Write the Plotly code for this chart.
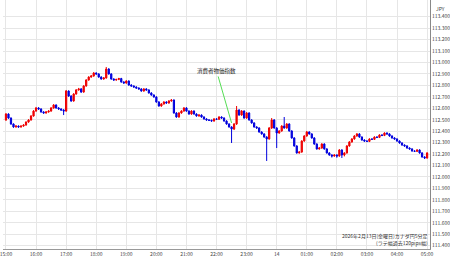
import pandas as pd
import plotly.graph_objects as go

start = "2026-02-13 15:00"
n_bars = 169

opens = [
112.498, 112.550, 112.515, 112.463, 112.437, 112.445, 112.437, 112.445, 112.454, 112.480,
112.498, 112.533, 112.576, 112.603, 112.594, 112.568, 112.559, 112.568, 112.576, 112.603,
112.629, 112.603, 112.594, 112.585, 112.576, 112.751, 112.707, 112.664, 112.725, 112.760,
112.769, 112.742, 112.795, 112.847, 112.873, 112.882, 112.908, 112.900, 112.873, 112.856,
112.865, 112.943, 112.900, 112.856, 112.847, 112.852, 112.860, 112.830, 112.821, 112.838,
112.803, 112.795, 112.786, 112.777, 112.769, 112.751, 112.769, 112.760, 112.734, 112.716,
112.699, 112.655, 112.620, 112.638, 112.655, 112.646, 112.664, 112.672, 112.559, 112.524,
112.559, 112.576, 112.603, 112.576, 112.550, 112.576, 112.550, 112.533, 112.541, 112.524,
112.507, 112.498, 112.495, 112.489, 112.507, 112.504, 112.524, 112.515, 112.489, 112.463,
112.437, 112.419, 112.463, 112.585, 112.541, 112.576, 112.515, 112.559, 112.498, 112.472,
112.437, 112.428, 112.393, 112.376, 112.349, 112.332, 112.428, 112.498, 112.428, 112.384,
112.402, 112.445, 112.428, 112.463, 112.402, 112.341, 112.271, 112.210, 112.218, 112.314,
112.358, 112.393, 112.376, 112.341, 112.288, 112.245, 112.253, 112.288, 112.245, 112.210,
112.192, 112.183, 112.192, 112.183, 112.236, 112.192, 112.210, 112.271, 112.306, 112.332,
112.358, 112.376, 112.349, 112.323, 112.314, 112.311, 112.332, 112.329, 112.349, 112.346,
112.367, 112.363, 112.384, 112.376, 112.358, 112.341, 112.332, 112.314, 112.297, 112.279,
112.271, 112.253, 112.245, 112.227, 112.224, 112.236, 112.210, 112.175, 112.166,
]

highs = [
112.558, 112.556, 112.520, 112.468, 112.452, 112.450, 112.450, 112.460, 112.486, 112.505,
112.540, 112.584, 112.612, 112.610, 112.600, 112.574, 112.575, 112.582, 112.610, 112.636,
112.634, 112.610, 112.600, 112.592, 112.760, 112.756, 112.714, 112.732, 112.768, 112.778,
112.776, 112.802, 112.854, 112.880, 112.890, 112.916, 112.914, 112.906, 112.880, 112.872,
112.961, 112.950, 112.906, 112.862, 112.858, 112.866, 112.866, 112.836, 112.845, 112.844,
112.810, 112.800, 112.792, 112.783, 112.775, 112.776, 112.775, 112.766, 112.740, 112.722,
112.705, 112.662, 112.645, 112.662, 112.661, 112.671, 112.680, 112.678, 112.566, 112.566,
112.583, 112.610, 112.609, 112.582, 112.583, 112.582, 112.556, 112.548, 112.547, 112.530,
112.513, 112.504, 112.501, 112.514, 112.513, 112.531, 112.530, 112.521, 112.495, 112.469,
112.443, 112.470, 112.620, 112.592, 112.584, 112.582, 112.567, 112.565, 112.504, 112.478,
112.443, 112.434, 112.399, 112.382, 112.356, 112.436, 112.515, 112.505, 112.435, 112.409,
112.452, 112.524, 112.470, 112.469, 112.408, 112.347, 112.277, 112.225, 112.321, 112.365,
112.402, 112.399, 112.382, 112.347, 112.294, 112.260, 112.295, 112.294, 112.251, 112.216,
112.198, 112.198, 112.198, 112.243, 112.242, 112.216, 112.278, 112.313, 112.339, 112.365,
112.383, 112.382, 112.355, 112.329, 112.320, 112.338, 112.338, 112.355, 112.355, 112.373,
112.373, 112.390, 112.390, 112.382, 112.364, 112.347, 112.338, 112.320, 112.303, 112.285,
112.277, 112.259, 112.251, 112.233, 112.242, 112.242, 112.216, 112.181, 112.216,
]

lows = [
112.490, 112.508, 112.456, 112.430, 112.431, 112.430, 112.431, 112.439, 112.448, 112.474,
112.492, 112.527, 112.570, 112.587, 112.562, 112.553, 112.553, 112.562, 112.570, 112.597,
112.597, 112.588, 112.579, 112.541, 112.570, 112.700, 112.657, 112.658, 112.719, 112.754,
112.735, 112.736, 112.789, 112.841, 112.867, 112.876, 112.894, 112.867, 112.850, 112.850,
112.859, 112.894, 112.850, 112.841, 112.841, 112.846, 112.824, 112.815, 112.815, 112.797,
112.789, 112.780, 112.771, 112.763, 112.745, 112.745, 112.754, 112.728, 112.710, 112.693,
112.649, 112.614, 112.614, 112.632, 112.640, 112.640, 112.658, 112.553, 112.518, 112.518,
112.553, 112.570, 112.570, 112.544, 112.544, 112.544, 112.527, 112.527, 112.518, 112.501,
112.492, 112.489, 112.483, 112.483, 112.498, 112.498, 112.509, 112.483, 112.457, 112.431,
112.297, 112.410, 112.455, 112.535, 112.535, 112.509, 112.509, 112.492, 112.466, 112.431,
112.422, 112.387, 112.370, 112.343, 112.140, 112.326, 112.420, 112.422, 112.253, 112.378,
112.396, 112.422, 112.422, 112.396, 112.335, 112.265, 112.204, 112.204, 112.212, 112.308,
112.352, 112.370, 112.335, 112.282, 112.239, 112.239, 112.247, 112.239, 112.204, 112.186,
112.170, 112.177, 112.168, 112.177, 112.166, 112.180, 112.204, 112.265, 112.300, 112.326,
112.352, 112.343, 112.317, 112.308, 112.305, 112.305, 112.323, 112.323, 112.340, 112.340,
112.357, 112.357, 112.370, 112.352, 112.335, 112.326, 112.308, 112.291, 112.273, 112.265,
112.247, 112.239, 112.221, 112.218, 112.218, 112.204, 112.169, 112.158, 112.160,
]

closes = [
112.550, 112.515, 112.463, 112.437, 112.445, 112.437, 112.445, 112.454, 112.480, 112.498,
112.533, 112.576, 112.603, 112.594, 112.568, 112.559, 112.568, 112.576, 112.603, 112.629,
112.603, 112.594, 112.585, 112.576, 112.751, 112.707, 112.664, 112.725, 112.760, 112.769,
112.742, 112.795, 112.847, 112.873, 112.882, 112.908, 112.900, 112.873, 112.856, 112.865,
112.943, 112.900, 112.856, 112.847, 112.852, 112.860, 112.830, 112.821, 112.838, 112.803,
112.795, 112.786, 112.777, 112.769, 112.751, 112.769, 112.760, 112.734, 112.716, 112.699,
112.655, 112.620, 112.638, 112.655, 112.646, 112.664, 112.672, 112.559, 112.524, 112.559,
112.576, 112.603, 112.576, 112.550, 112.576, 112.550, 112.533, 112.541, 112.524, 112.507,
112.498, 112.495, 112.489, 112.507, 112.504, 112.524, 112.515, 112.489, 112.463, 112.437,
112.419, 112.463, 112.585, 112.541, 112.576, 112.515, 112.559, 112.498, 112.472, 112.437,
112.428, 112.393, 112.376, 112.349, 112.332, 112.428, 112.498, 112.428, 112.384, 112.402,
112.445, 112.428, 112.463, 112.402, 112.341, 112.271, 112.210, 112.218, 112.314, 112.358,
112.393, 112.376, 112.341, 112.288, 112.245, 112.253, 112.288, 112.245, 112.210, 112.192,
112.183, 112.192, 112.183, 112.236, 112.192, 112.210, 112.271, 112.306, 112.332, 112.358,
112.376, 112.349, 112.323, 112.314, 112.311, 112.332, 112.329, 112.349, 112.346, 112.367,
112.363, 112.384, 112.376, 112.358, 112.341, 112.332, 112.314, 112.297, 112.279, 112.271,
112.253, 112.245, 112.227, 112.224, 112.236, 112.210, 112.175, 112.166, 112.210,
]

tick_times = pd.date_range("2026-02-13 15:00", "2026-02-14 05:00", freq="1h")
tick_text = ["15:00", "16:00", "17:00", "18:00", "19:00", "20:00", "21:00", "22:00",
             "23:00", "14", "01:00", "02:00", "03:00", "04:00", "05:00"]
y_ticks = [111.4, 111.5, 111.6, 111.7, 111.8, 111.9, 112.0, 112.1, 112.2, 112.3, 112.4,
           112.5, 112.6, 112.7, 112.8, 112.9, 113.0, 113.1, 113.2, 113.3, 113.4]

event_label = "消費者物価指数"
event_time = "2026-02-13 22:30"
event_price = 112.472
caption = "2026年2月13日(金曜日)カナダ円5分足<br>(ラテ幅過去120pips幅)"

times = pd.date_range(start, periods=n_bars, freq="5min")

fig = go.Figure()
fig.add_trace(go.Candlestick(
    x=times, open=opens, high=highs, low=lows, close=closes,
    increasing=dict(line=dict(color="#ee0000", width=1), fillcolor="#ee0000"),
    decreasing=dict(line=dict(color="#0000dd", width=1), fillcolor="#0000dd"),
    showlegend=False, hoverinfo="skip",
))

font = "Noto Sans CJK JP, DejaVu Sans, sans-serif"
fig.update_layout(
    width=450, height=258,
    margin=dict(l=0, r=19, t=0, b=9),
    paper_bgcolor="white", plot_bgcolor="white",
    font=dict(family=font, size=5, color="#444"),
    xaxis=dict(
        range=["2026-02-13 14:54:04", "2026-02-14 05:05:48"],
        tickvals=tick_times, ticktext=tick_text,
        showgrid=True, gridcolor="#e6e6e6", gridwidth=1,
        showline=True, linecolor="#999", linewidth=1,
        ticks="", tickfont=dict(size=5, color="#444"),
        ticklabeloverflow="allow",
        rangeslider=dict(visible=False), zeroline=False,
    ),
    yaxis=dict(
        side="right", range=[111.371, 113.546],
        tickvals=y_ticks, tickformat=".3f",
        showgrid=True, gridcolor="#e6e6e6", gridwidth=1,
        showline=True, linecolor="#888", linewidth=1,
        ticks="", tickfont=dict(size=5, color="#444"), zeroline=False,
    ),
)

fig.add_annotation(
    x=event_time, y=event_price, xref="x", yref="y",
    text=event_label, showarrow=True, arrowhead=0, arrowwidth=1,
    arrowcolor="#55dd55", ax=-15, ay=-52,
    font=dict(size=5.5, color="#222"),
)
fig.add_annotation(
    x=1, y=1, xref="paper", yref="paper", xanchor="left", yanchor="top",
    xshift=4, yshift=-3, text="JPY", showarrow=False,
    font=dict(size=5, color="#444"),
)
fig.add_annotation(
    x=1, y=0.0, xref="paper", yref="paper", xanchor="right", yanchor="bottom",
    text=caption, showarrow=False, align="right",
    font=dict(size=5, color="#333"),
)

fig.write_html("out.html")
